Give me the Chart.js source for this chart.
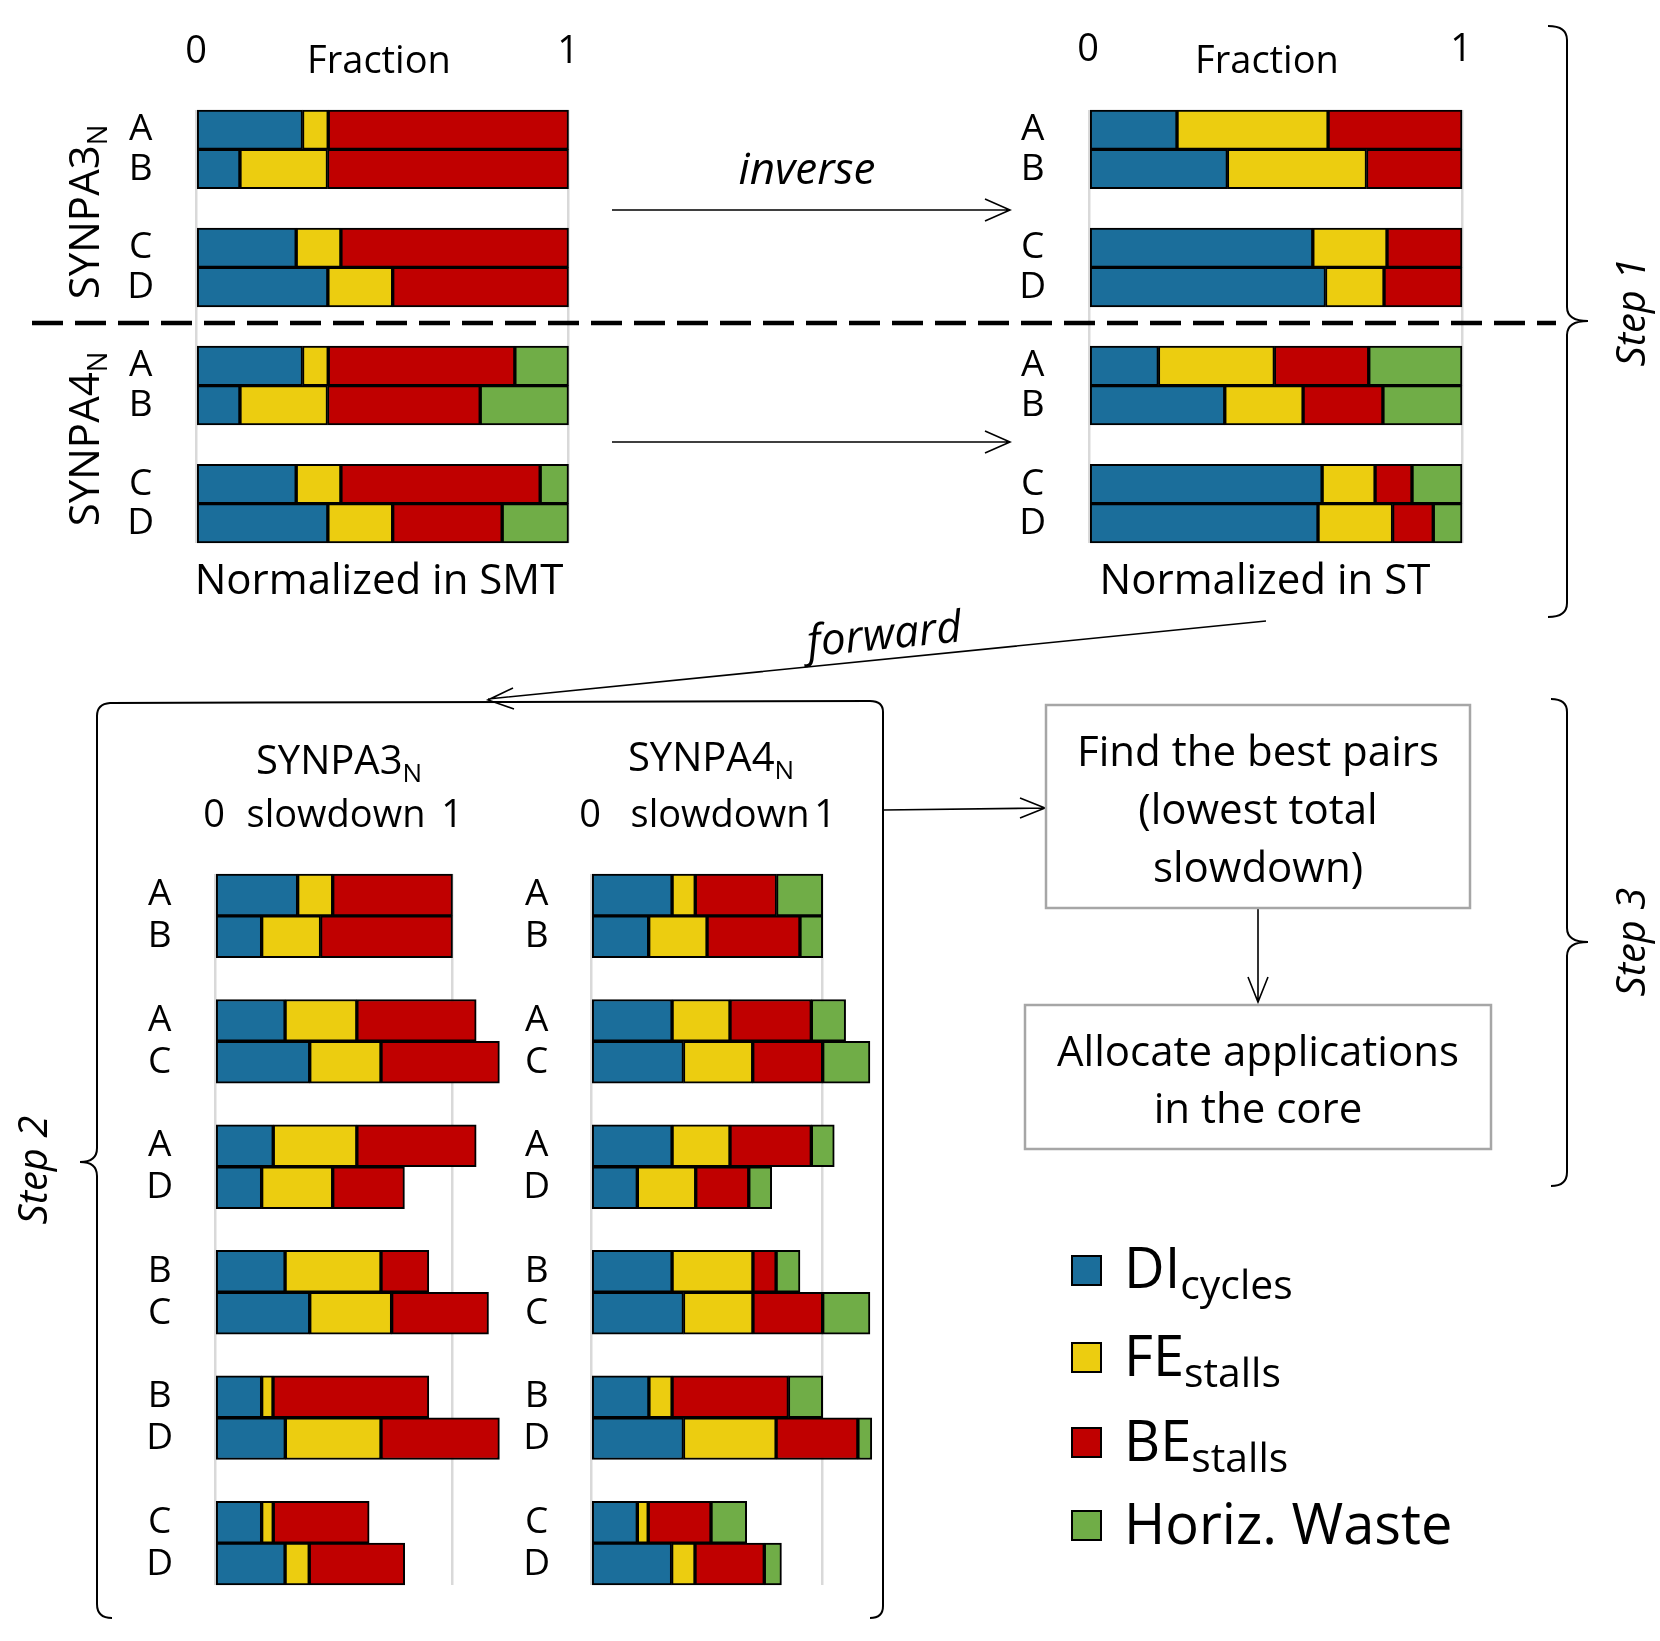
<!DOCTYPE html>
<html>
<head>
<meta charset="utf-8">
<script src="https://cdn.jsdelivr.net/npm/chart.js@4.4.1/dist/chart.umd.min.js"></script>
<style>
html, body { margin: 0; padding: 0; background: #fff; }
#page { position: relative; width: 1660px; height: 1641px; overflow: hidden;
        font-family: 'Open Sans', sans-serif; color: #000; background: #fff; }
canvas { position: absolute; }
.t { position: absolute; white-space: nowrap; line-height: 1; transform: translate(-50%, -50%); }
.i { font-style: italic; }
.r { transform: translate(-50%, -50%) rotate(-90deg); }
sub { font-size: 0.65em; vertical-align: -0.3em; line-height: 0; }
.sq { position: absolute; width: 31px; height: 31px; box-sizing: border-box; border: 2px solid #000; }
.leg { position: absolute; white-space: nowrap; line-height: 1; font-size: 56px; }
.leg sub { font-size: 0.73em; vertical-align: -0.26em; }
svg { position: absolute; left: 0; top: 0; }
</style>
</head>
<body>
<div id="page">
  <canvas id="smt"></canvas>
  <canvas id="st"></canvas>
  <canvas id="slow3"></canvas>
  <canvas id="slow4"></canvas>

  <svg width="1660" height="1641" fill="none" stroke="#000">
    <line x1="32" y1="323" x2="1556" y2="323" stroke-width="4.5" stroke-dasharray="31 12"/>
    <path d="M612 210 H1010 M985 199 L1010 210 L985 221" stroke-width="1.6"/>
    <path d="M612 442 H1010 M985 431 L1010 442 L985 453" stroke-width="1.6"/>
    <path d="M1266 621 L488 699 M513 688 L488 700 L514 709" stroke-width="1.6"/>
    <path d="M112 1618 Q97 1618 97 1604 L97 1176 Q97 1162 80 1162 Q97 1162 97 1148 L97 716 Q97 704 110 703 L870 701 Q883 701 883 712 L883 1606 Q883 1618 870 1618" stroke-width="2"/>
    <path d="M884 810 L1045 808 M1020 798 L1045 808 L1020 818" stroke-width="1.6"/>
    <path d="M1258 908 V1002 M1248 977 L1258 1002 L1268 977" stroke-width="1.6"/>
    <rect x="1046" y="705" width="424" height="203" stroke="#a6a6a6" stroke-width="2.5"/>
    <rect x="1025" y="1005" width="466" height="144" stroke="#a6a6a6" stroke-width="2.5"/>
    <path d="M1548 26 Q1567 26 1567 40 L1567 307 Q1567 321 1588 321 Q1567 321 1567 335 L1567 603 Q1567 617 1548 617" stroke-width="2"/>
    <path d="M1551 699 Q1567 699 1567 712 L1567 928 Q1567 942 1588 942 Q1567 942 1567 956 L1567 1172 Q1567 1186 1551 1186" stroke-width="2"/>
  </svg>

  <!-- step 1 -->
  <div class="t" style="left:196px;top:48px;font-size:38px">0</div>
  <div class="t" style="left:568px;top:48px;font-size:38px">1</div>
  <div class="t" style="left:379px;top:58px;font-size:38px">Fraction</div>
  <div class="t" style="left:1088px;top:46px;font-size:38px">0</div>
  <div class="t" style="left:1461px;top:46px;font-size:38px">1</div>
  <div class="t" style="left:1267px;top:58px;font-size:38px">Fraction</div>
  <div class="t" style="left:379px;top:578px;font-size:42px">Normalized in SMT</div>
  <div class="t" style="left:1265px;top:578px;font-size:42px">Normalized in ST</div>
  <div class="t i" style="left:807px;top:167px;font-size:44px">inverse</div>
  <div class="t r" style="left:83px;top:212px;font-size:42px">SYNPA3<sub>N</sub></div>
  <div class="t r" style="left:83px;top:439px;font-size:42px">SYNPA4<sub>N</sub></div>
  <div class="t i" style="left:884px;top:632px;font-size:44px;transform:translate(-50%,-50%) rotate(-5.7deg)">forward</div>

  <!-- step 2 -->
  <div class="t" style="left:339px;top:759px;font-size:40px">SYNPA3<sub>N</sub></div>
  <div class="t" style="left:214px;top:812px;font-size:38px">0</div>
  <div class="t" style="left:336px;top:812px;font-size:38px">slowdown</div>
  <div class="t" style="left:452px;top:812px;font-size:38px">1</div>
  <div class="t" style="left:711px;top:756px;font-size:40px">SYNPA4<sub>N</sub></div>
  <div class="t" style="left:590px;top:812px;font-size:38px">0</div>
  <div class="t" style="left:720px;top:812px;font-size:38px">slowdown</div>
  <div class="t" style="left:825px;top:812px;font-size:38px">1</div>

  <!-- step 3 -->
  <div class="t" style="left:1258px;top:750px;font-size:42px">Find the best pairs</div>
  <div class="t" style="left:1258px;top:808px;font-size:42px">(lowest total</div>
  <div class="t" style="left:1258px;top:866px;font-size:42px">slowdown)</div>
  <div class="t" style="left:1258px;top:1050px;font-size:42px">Allocate applications</div>
  <div class="t" style="left:1258px;top:1107px;font-size:42px">in the core</div>

  <div class="t i r" style="left:1630px;top:312px;font-size:40px">Step 1</div>
  <div class="t i r" style="left:1630px;top:942px;font-size:40px">Step 3</div>
  <div class="t i r" style="left:32px;top:1170px;font-size:40px">Step 2</div>

  <!-- legend -->
  <div class="sq" style="left:1071px;top:1255px;background:#1b6e9b"></div>
  <div class="leg" style="left:1124px;top:1238px">DI<sub>cycles</sub></div>
  <div class="sq" style="left:1071px;top:1342px;background:#eccd10"></div>
  <div class="leg" style="left:1124px;top:1326px">FE<sub>stalls</sub></div>
  <div class="sq" style="left:1071px;top:1427px;background:#c00000"></div>
  <div class="leg" style="left:1124px;top:1411px">BE<sub>stalls</sub></div>
  <div class="sq" style="left:1071px;top:1510px;background:#70ad47"></div>
  <div class="leg" style="left:1124px;top:1494px">Horiz. Waste</div>
</div>

<script>
// 颜色
const BLUE = '#1b6e9b', YELLOW = '#eccd10', RED = '#c00000', GREEN = '#70ad47';
const FONT = "'Open Sans', sans-serif";

// Step 1: fraction of cycles (SMT / ST), SYNPA3N rows then SYNPA4N rows
const topCategories = ['A', 'B', '', 'C', 'D', '', 'A', 'B', '', 'C', 'D'];
const smtDI = [0.286, 0.118, null, 0.269, 0.354, null, 0.286, 0.118, null, 0.269, 0.354];
const smtFE = [0.069, 0.235, null, 0.120, 0.174, null, 0.069, 0.235, null, 0.120, 0.174];
const smtBE = [0.645, 0.647, null, 0.611, 0.472, null, 0.501, 0.410, null, 0.535, 0.294];
const smtHW = [null, null, null, null, null, null, 0.144, 0.237, null, 0.076, 0.178];

const stDI = [0.236, 0.371, null, 0.600, 0.634, null, 0.186, 0.364, null, 0.625, 0.614];
const stFE = [0.405, 0.373, null, 0.199, 0.157, null, 0.311, 0.210, null, 0.142, 0.200];
const stBE = [0.359, 0.256, null, 0.201, 0.209, null, 0.253, 0.214, null, 0.099, 0.109];
const stHW = [null, null, null, null, null, null, 0.250, 0.212, null, 0.134, 0.077];

// Step 2: predicted slowdown of each pair
const pairCategories = ['A', 'B', '', 'A', 'C', '', 'A', 'D', '', 'B', 'C', '', 'B', 'D', '', 'C', 'D'];
const s3DI = [0.349, 0.197, null, 0.296, 0.400, null, 0.246, 0.197, null, 0.296, 0.400, null, 0.197, 0.297, null, 0.197, 0.296];
const s3FE = [0.148, 0.249, null, 0.303, 0.301, null, 0.353, 0.300, null, 0.405, 0.346, null, 0.048, 0.404, null, 0.049, 0.102];
const s3BE = [0.506, 0.557, null, 0.504, 0.500, null, 0.504, 0.303, null, 0.202, 0.409, null, 0.658, 0.500, null, 0.405, 0.403];

const s4DI = [0.350, 0.249, null, 0.350, 0.399, null, 0.350, 0.200, null, 0.350, 0.399, null, 0.250, 0.399, null, 0.200, 0.348];
const s4FE = [0.100, 0.252, null, 0.250, 0.299, null, 0.250, 0.252, null, 0.349, 0.300, null, 0.100, 0.400, null, 0.047, 0.101];
const s4BE = [0.351, 0.401, null, 0.351, 0.302, null, 0.351, 0.229, null, 0.100, 0.301, null, 0.502, 0.353, null, 0.271, 0.299];
const s4HW = [0.199, 0.098, null, 0.148, 0.204, null, 0.099, 0.099, null, 0.103, 0.204, null, 0.148, 0.060, null, 0.154, 0.074];

const gridTicks = [0, 1];

/** 堆叠横向柱状图 */
function createStackChart(id, labels, series, box) {
    const canvas = document.getElementById(id);
    canvas.width = box.w;
    canvas.height = box.h;
    Object.assign(canvas.style, {
        left: box.left + 'px', top: box.top + 'px',
        width: box.w + 'px', height: box.h + 'px'
    });
    const colors = [BLUE, YELLOW, RED, GREEN];
    const datasets = series.map((data, i) => ({
        data,
        backgroundColor: colors[i],
        borderColor: '#000',
        borderWidth: 2,
        borderSkipped: false,
        barPercentage: 1,
        categoryPercentage: 1,
        clip: false
    }));
    return new Chart(canvas.getContext('2d'), {
        type: 'bar',
        data: { labels, datasets },
        options: {
            indexAxis: 'y',
            responsive: false,
            animation: false,
            devicePixelRatio: 1,
            layout: { padding: box.pad },
            plugins: { legend: { display: false }, tooltip: { enabled: false } },
            scales: {
                x: {
                    type: 'linear', stacked: true, min: 0, max: box.xMax,
                    afterBuildTicks: s => { s.ticks = gridTicks.map(v => ({ value: v })); },
                    afterFit: s => { s.height = 0; s.paddingLeft = 0; s.paddingRight = 0; },
                    ticks: { display: false },
                    border: { display: false },
                    grid: { color: '#d9d9d9', lineWidth: 2.5, drawTicks: false }
                },
                y: {
                    stacked: true,
                    // 固定轴宽, 去掉标签带来的上下留白
                    afterFit: s => { s.width = box.axisW; s.paddingTop = 0; s.paddingBottom = 0; },
                    grid: { display: false, drawTicks: false },
                    border: { display: false },
                    ticks: {
                        autoSkip: false, color: '#000', crossAlign: 'center',
                        padding: box.labelPad, font: { family: FONT, size: 37 }
                    }
                }
            }
        }
    });
}

createStackChart('smt', topCategories, [smtDI, smtFE, smtBE, smtHW],
    { left: 100, top: 100, w: 480, h: 450, axisW: 96, labelPad: 42, xMax: 1,
      pad: { top: 10, right: 11.5, bottom: 7, left: 0 } });
createStackChart('st', topCategories, [stDI, stFE, stBE, stHW],
    { left: 990, top: 100, w: 480, h: 450, axisW: 99, labelPad: 43, xMax: 1,
      pad: { top: 10, right: 8, bottom: 7, left: 0 } });
createStackChart('slow3', pairCategories, [s3DI, s3FE, s3BE],
    { left: 120, top: 864, w: 400, h: 731, axisW: 95, labelPad: 42, xMax: 1.25,
      pad: { top: 10, right: 9, bottom: 10, left: 0 } });
createStackChart('slow4', pairCategories, [s4DI, s4FE, s4BE, s4HW],
    { left: 496, top: 864, w: 400, h: 731, axisW: 95, labelPad: 41, xMax: 1.25,
      pad: { top: 10, right: 15.4, bottom: 10, left: 0 } });
</script>
</body>
</html>
